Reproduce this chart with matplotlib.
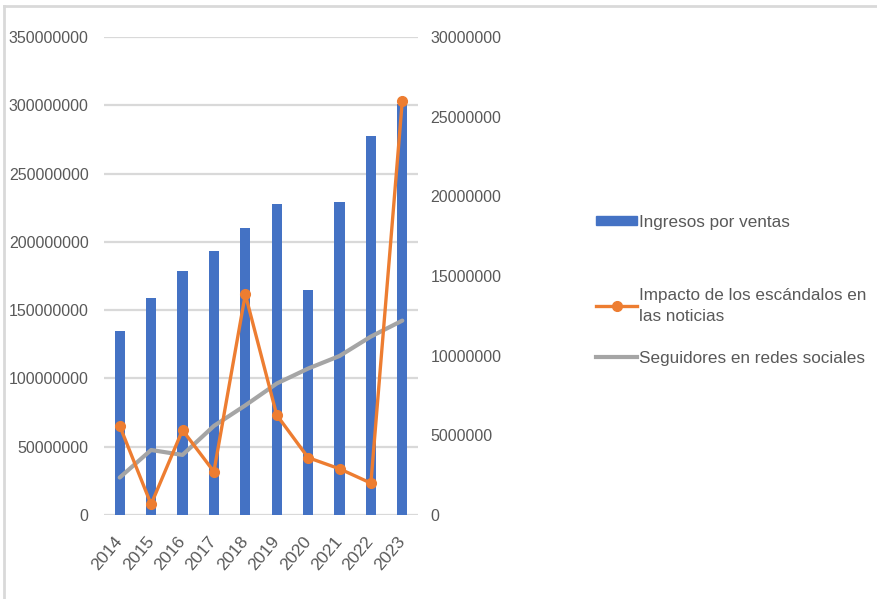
import matplotlib.pyplot as plt
from matplotlib.lines import Line2D
import numpy as np

plt.rcParams['font.family'] = ['Liberation Sans', 'DejaVu Sans']

# datos por año
anios = ['2014', '2015', '2016', '2017', '2018', '2019', '2020', '2021', '2022', '2023']
ingresos = [135000000, 159000000, 179000000, 193500000, 210500000, 228000000,
            165000000, 229000000, 277500000, 301000000]
impacto = [5600000, 670000, 5330000, 2720000, 13850000, 6280000,
           3600000, 2900000, 2000000, 26000000]
seguidores = [2350000, 4080000, 3770000, 5590000, 6880000, 8250000,
              9190000, 9980000, 11200000, 12200000]

izq_ticks = [0, 50000000, 100000000, 150000000, 200000000, 250000000, 300000000, 350000000]
der_ticks = [0, 5000000, 10000000, 15000000, 20000000, 25000000, 30000000]

azul = '#4472C4'
naranja = '#ED7D31'
gris = '#A5A5A5'
texto = '#595959'

fig = plt.figure(figsize=(8.77, 5.99), dpi=100)
ax = fig.add_axes([104 / 877, 1 - 515 / 599, 314 / 877, 478 / 599])
ax2 = ax.twinx()

x = np.arange(len(anios))
ax.bar(x, ingresos, width=0.32, color=azul, zorder=2)
ax.set_ylim(0, 350000000)
ax.set_xlim(-0.5, len(anios) - 0.5)
ax.set_yticks(izq_ticks)
ax.set_yticklabels([str(v) for v in izq_ticks])
ax.yaxis.grid(True, color='#D9D9D9', linewidth=1.6, zorder=0)
ax.set_axisbelow(True)
ax.set_xticks(x)
ax.set_xticklabels(anios, rotation=50, ha='right', va='center', rotation_mode='anchor')
ax.tick_params(axis='both', length=0, colors=texto, labelsize=11.5)
ax.tick_params(axis='x', labelsize=12.5, pad=17)
ax.tick_params(axis='y', pad=11)

ax2.plot(x, seguidores, color=gris, linewidth=3, solid_capstyle='round', zorder=3)
ax2.plot(x, impacto, color=naranja, linewidth=2.4, marker='o', markersize=7,
         solid_capstyle='round', zorder=4)
ax2.set_ylim(0, 30000000)
ax2.set_yticks(der_ticks)
ax2.set_yticklabels([str(v) for v in der_ticks])
ax2.tick_params(axis='y', length=0, colors=texto, labelsize=11.5, pad=9)

for a in (ax, ax2):
    for s in a.spines.values():
        s.set_visible(False)

# leyenda en dos bloques
h_bar = plt.Rectangle((0, 0), 1, 1, color=azul)
leg1 = fig.legend([h_bar], ['Ingresos por ventas'], loc='center left',
                  bbox_to_anchor=(581 / 877, 1 - 222 / 599), frameon=False,
                  handlelength=2.4, handleheight=0.45, handletextpad=0.1,
                  fontsize=12.3, labelcolor=texto)
h_imp = Line2D([], [], color=naranja, linewidth=2.4, marker='o', markersize=7)
h_seg = Line2D([], [], color=gris, linewidth=3)
leg2 = fig.legend([h_imp, h_seg],
                  ['Impacto de los escándalos en\nlas noticias', 'Seguidores en redes sociales'],
                  loc='center left', bbox_to_anchor=(581 / 877, 1 - 327 / 599), frameon=False,
                  handlelength=2.4, handletextpad=0.1, labelspacing=1.6,
                  fontsize=12.3, labelcolor=texto)
for t in leg2.get_texts():
    t.set_linespacing(1.45)

# borde superior e izquierdo del gráfico
fig.add_artist(Line2D([4 / 877, 1], [1 - 6 / 599, 1 - 6 / 599], color='#D9D9D9', linewidth=2))
fig.add_artist(Line2D([4 / 877, 4 / 877], [0, 1 - 6 / 599], color='#D9D9D9', linewidth=2))

fig.savefig('out.png', dpi=100)
